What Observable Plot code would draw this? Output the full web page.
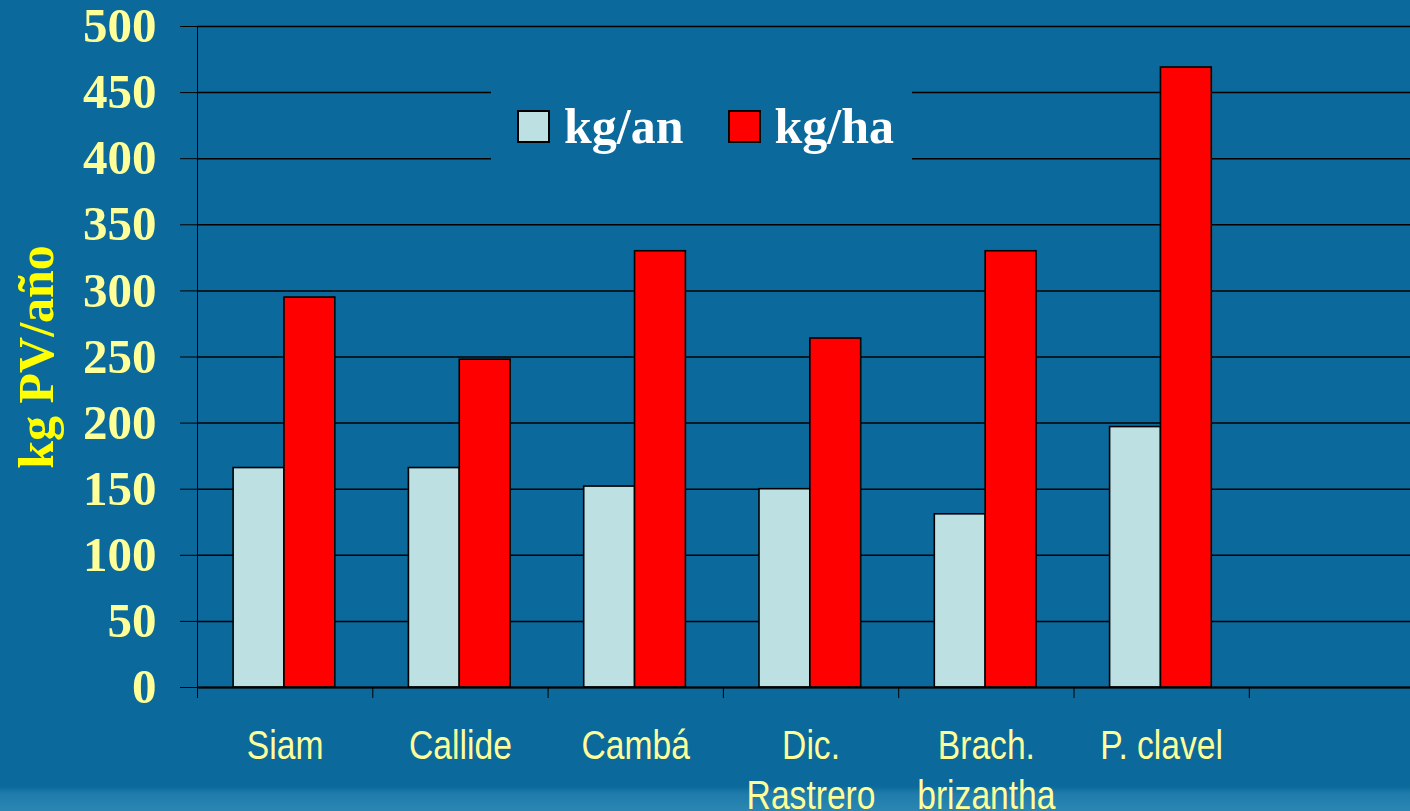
<!DOCTYPE html>
<html>
<head>
<meta charset="utf-8">
<script src="https://cdn.jsdelivr.net/npm/d3@7"></script>
<script src="https://cdn.jsdelivr.net/npm/@observablehq/plot@0.6"></script>
<style>
  html, body { margin: 0; padding: 0; }
  body {
    width: 1410px; height: 811px; overflow: hidden;
    background: linear-gradient(to bottom, #0b699b 0px, #0b699b 786px, #1f7cab 794px, #2b86b2 811px);
  }
  #wrap { position: relative; width: 1410px; height: 811px; }
  g[aria-label^="y-axis"] text {
    fill: #ffff99;
    font-family: "Liberation Serif", "Times New Roman", serif;
    font-weight: bold;
    font-size: 49px;
  }
  #legend {
    position: absolute; left: 491px; top: 80px; width: 421px; height: 92px;
    background: #0b699b; display: flex; align-items: center;
    font-family: "Liberation Serif", "Times New Roman", serif; font-weight: bold;
    font-size: 50px; color: #ffffff;
  }
  .item { display: flex; align-items: center; }
  .sw { width: 29px; height: 29px; border: 2px solid #000; box-sizing: content-box; margin-right: 14px; }
</style>
</head>
<body>
<div id="wrap"></div>
<script>
// ---- data ----
const categories = ["Siam", "Callide", "Cambá", "Dic.\nRastrero", "Brach.\nbrizantha", "P. clavel"];
const series = ["kg/an", "kg/ha"];
const kgAn = [166, 166, 152, 150, 131, 197];
const kgHa = [295, 248, 330, 264, 330, 469];
const yTicks = [0, 50, 100, 150, 200, 250, 300, 350, 400, 450, 500];
const seriesColors = ["#bde0e3", "#ff0000"];
const slotCount = 7; // category slots on the axis (the last one is empty)

// ---- layout of grouped bars inside each category slot ----
const groupLeft = 0.206, barW = 0.29;
const rows = categories.flatMap((c, i) => [
  {cat: c, i, series: series[0], value: kgAn[i], k: 0},
  {cat: c, i, series: series[1], value: kgHa[i], k: 1}
]);

const W = 1410, H = 811;
const mL = 197, mT = 26, mB = 124;
const slotPx = 175.3;

const chart = Plot.plot({
  width: W,
  height: H,
  marginLeft: mL,
  marginRight: 0,
  marginTop: mT,
  marginBottom: mB,
  style: {background: "transparent", color: "black", overflow: "hidden"},
  x: {type: "linear", domain: [0, slotCount], range: [mL, mL + slotCount * slotPx],
      ticks: d3.range(0, slotCount + 1), tickFormat: () => "", tickSize: 11, label: null},
  y: {domain: [0, 500], ticks: yTicks, tickSize: 17, tickPadding: 24, line: true, label: null},
  color: {domain: series, range: seriesColors},
  marks: [
    Plot.ruleY(yTicks, {stroke: "black", strokeWidth: 1.5}),
    Plot.rectY(rows, {
      x1: d => d.i + groupLeft + d.k * barW,
      x2: d => d.i + groupLeft + (d.k + 1) * barW,
      y1: 0, y2: "value",
      fill: "series", stroke: "black", strokeWidth: 1.6
    }),
    Plot.ruleY([0], {stroke: "black", strokeWidth: 2}),
    Plot.text(categories, {
      x: (d, i) => i + 0.5, y: () => 0,
      text: d => d, dy: 36, lineAnchor: "top", lineHeight: 1.22,
      fill: "#ffff99", fontSize: 41,
      fontFamily: "'Liberation Sans Narrow', 'Arial Narrow', 'Liberation Sans', sans-serif"
    }),
    Plot.text(["kg PV/año"], {
      frameAnchor: "left", textAnchor: "middle", rotate: -90, dx: -161,
      fill: "#ffff00", fontSize: 50, fontWeight: "bold",
      fontFamily: "'Liberation Serif', 'Times New Roman', serif"
    })
  ]
});
document.getElementById("wrap").appendChild(chart);

// condense the category labels horizontally (narrow sans look)
const textGroups = chart.querySelectorAll('g[aria-label="text"]');
if (textGroups.length) {
  textGroups[0].querySelectorAll(":scope > text").forEach(t => {
    const tr = t.getAttribute("transform");
    if (tr) {
      t.setAttribute("transform", tr + " scale(0.82,1)");
    } else {
      const x = t.getAttribute("x") || 0, y = t.getAttribute("y") || 0;
      t.removeAttribute("x"); t.removeAttribute("y");
      t.setAttribute("transform", `translate(${x},${y}) scale(0.82,1)`);
    }
  });
}

// legend (in-plot, over the gridlines)
const legend = document.createElement("div");
legend.id = "legend";
series.forEach((s, j) => {
  const it = document.createElement("div");
  it.className = "item";
  it.style.marginLeft = j === 0 ? "26px" : "44px";
  const sw = document.createElement("div");
  sw.className = "sw";
  sw.style.background = seriesColors[j];
  const t = document.createElement("span");
  t.textContent = s;
  it.appendChild(sw); it.appendChild(t);
  legend.appendChild(it);
});
document.getElementById("wrap").appendChild(legend);
</script>
</body>
</html>
